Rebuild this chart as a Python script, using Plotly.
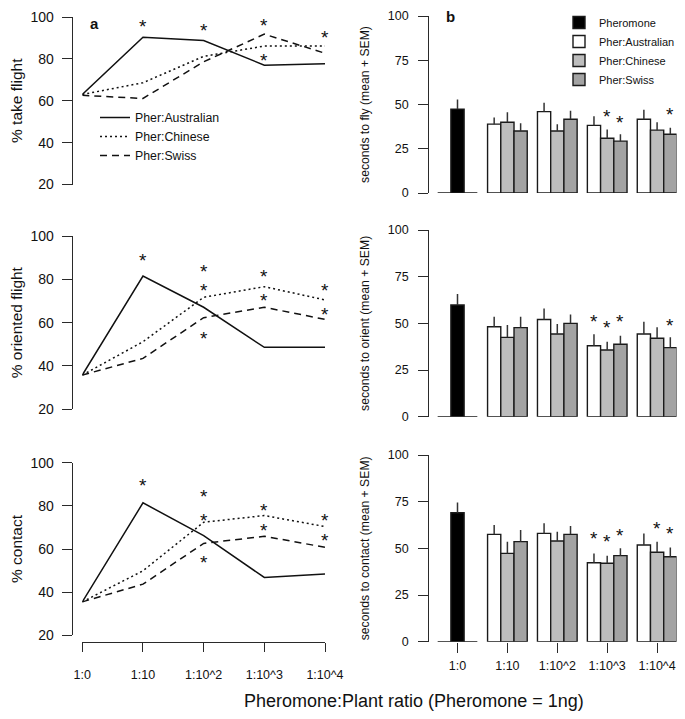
import plotly.graph_objects as go

# The page body keeps the browser's default 8px margin, so the figure is sized
# to fit inside the 685x719 window and all geometry below is given in window pixels.
WIN_W, WIN_H, PAGE_MARGIN = 685, 719, 8
W, H = WIN_W - 2 * PAGE_MARGIN, WIN_H - 2 * PAGE_MARGIN
FONT = "Liberation Sans, Arial, sans-serif"

ratios = ["1:0", "1:10", "1:10^2", "1:10^3", "1:10^4"]

# ---- panel a: % responding ----
take_aus = [63.0, 90.3, 88.8, 77.0, 77.7]
take_chi = [63.0, 68.6, 81.2, 86.1, 86.1]
take_swi = [62.6, 61.1, 78.6, 91.8, 82.7]

orient_aus = [35.8, 81.5, 67.1, 48.6, 48.6]
orient_chi = [35.8, 51.2, 71.7, 76.6, 70.5]
orient_swi = [35.8, 43.5, 62.3, 67.1, 61.5]

contact_aus = [35.5, 81.4, 66.2, 46.8, 48.4]
contact_chi = [35.5, 49.9, 72.4, 75.5, 70.4]
contact_swi = [35.5, 43.7, 62.6, 65.9, 60.8]

# significance stars: (ratio index, value)
take_stars = [(1, 96.4), (2, 94.4), (3, 97.1), (3, 80.0), (4, 91.4)]
orient_stars = [(1, 89.7), (2, 84.6), (2, 75.8), (2, 53.8), (3, 82.3), (3, 71.2), (4, 75.8), (4, 64.6)]
contact_stars = [(1, 90.5), (2, 85.1), (2, 74.3), (2, 54.6), (3, 78.6), (3, 69.3), (4, 74.3), (4, 65.0)]

# ---- panel b: seconds (mean + SEM) ----
fly_pher, fly_pher_sem = 47.4, 5.4
fly_aus = [38.9, 46.0, 38.2, 41.7]
fly_aus_sem = [3.7, 5.0, 5.1, 5.4]
fly_chi = [40.0, 35.0, 30.9, 35.5]
fly_chi_sem = [5.6, 3.9, 5.0, 4.5]
fly_swi = [35.0, 41.7, 29.3, 33.2]
fly_swi_sem = [4.4, 4.8, 3.9, 3.6]

orient_pher, orient_pher_sem = 59.8, 5.9
orient_b_aus = [48.2, 52.1, 38.0, 44.3]
orient_b_aus_sem = [5.4, 5.9, 6.1, 6.6]
orient_b_chi = [42.5, 44.3, 35.7, 42.0]
orient_b_chi_sem = [6.6, 5.3, 4.5, 5.9]
orient_b_swi = [47.7, 50.0, 38.8, 37.0]
orient_b_swi_sem = [5.9, 4.8, 4.6, 5.5]

contact_pher, contact_pher_sem = 69.1, 5.5
contact_b_aus = [57.5, 58.0, 42.3, 51.8]
contact_b_aus_sem = [5.0, 5.4, 5.0, 6.2]
contact_b_chi = [47.3, 53.9, 42.0, 47.9]
contact_b_chi_sem = [6.3, 5.0, 4.1, 5.7]
contact_b_swi = [53.6, 57.5, 46.1, 45.5]
contact_b_swi_sem = [6.2, 4.5, 3.9, 5.0]

# stars on bars: (ratio index, series, value)
fly_bar_stars = [(3, "chi", 44.2), (3, "swi", 41.2), (4, "swi", 45.3)]
orient_bar_stars = [(3, "aus", 52.3), (3, "chi", 48.6), (3, "swi", 52.1), (4, "swi", 50.0)]
contact_bar_stars = [(3, "aus", 56.3), (3, "chi", 54.5), (3, "swi", 58.0), (4, "chi", 61.6), (4, "swi", 58.9)]

series_names = ["Pher:Australian", "Pher:Chinese", "Pher:Swiss"]
bar_colors = {"pher": "#000000", "aus": "#ffffff", "chi": "#bdbdbd", "swi": "#a3a3a3"}


# ---------------- layout geometry (window pixels -> paper fractions) ----------------
def px(xs):
    return (xs - PAGE_MARGIN) / W


def py(ys):
    return 1 - (ys - PAGE_MARGIN) / H


left_x_dom = [px(82.3), px(325.0)]
left_y_doms = [(17.0, 184.5), (236.0, 409.3), (462.7, 635.3)]   # (y of 100, y of 20)
G0, GSTEP = 457.5, 49.9
XR = [-0.45, 4.39]
right_x_dom = [px(G0 + XR[0] * GSTEP), px(G0 + XR[1] * GSTEP)]
right_y_doms = [(16.0, 193.0), (230.0, 416.7), (455.0, 641.7)]  # (y of 100, y of 0)

AX = "#2a2a2a"
BW = 0.265  # bar width in category units
offs = {"aus": -BW, "chi": 0.0, "swi": BW, "pher": 0.0}
STAR_FONT = dict(size=19, color="#111111", family=FONT)

fig = go.Figure()

left_data = [
    (take_aus, take_chi, take_swi, take_stars, "% take flight"),
    (orient_aus, orient_chi, orient_swi, orient_stars, "% oriented flight"),
    (contact_aus, contact_chi, contact_swi, contact_stars, "% contact"),
]
dashes = ["solid", "2px,3px", "7px,5px"]
idx = list(range(len(ratios)))
annotations = []

for p, (a, c, s, stars, title) in enumerate(left_data):
    xa = "x%d" % (p + 1)
    ya = "y%d" % (p + 1)
    for k, vals in enumerate([a, c, s]):
        fig.add_trace(go.Scatter(
            x=idx, y=vals, mode="lines", name=series_names[k],
            line=dict(color="#111111", width=1.5, dash=dashes[k]),
            xaxis=xa, yaxis=ya, showlegend=(p == 0), legend="legend",
        ))
    for (i, v) in stars:
        annotations.append(dict(x=i, y=v, xref=xa, yref=ya, text="*", showarrow=False,
                                xanchor="center", yanchor="middle", font=STAR_FONT, yshift=-2))

right_data = [
    (fly_pher, fly_pher_sem, fly_aus, fly_aus_sem, fly_chi, fly_chi_sem, fly_swi, fly_swi_sem,
     fly_bar_stars, "seconds to fly (mean + SEM)"),
    (orient_pher, orient_pher_sem, orient_b_aus, orient_b_aus_sem, orient_b_chi, orient_b_chi_sem,
     orient_b_swi, orient_b_swi_sem, orient_bar_stars, "seconds to orient (mean + SEM)"),
    (contact_pher, contact_pher_sem, contact_b_aus, contact_b_aus_sem, contact_b_chi, contact_b_chi_sem,
     contact_b_swi, contact_b_swi_sem, contact_bar_stars, "seconds to contact (mean + SEM)"),
]


def err(arr):
    return dict(type="data", array=arr, arrayminus=[0] * len(arr), symmetric=False,
                width=0, thickness=1.5, color="#333333")


grp = idx[1:]
for p, (ph, phs, au, aus_, ch, chs, sw, sws, bstars, title) in enumerate(right_data):
    xa = "x%d" % (p + 4)
    ya = "y%d" % (p + 4)
    first = (p == 0)
    line = dict(color="#1a1a1a", width=1.4)
    # empty side bars at 1:0 (zero height, drawn as the baseline)
    fig.add_trace(go.Bar(x=[idx[0] + offs["aus"], idx[0] + offs["swi"]], y=[0, 0], width=BW,
                         marker=dict(color="#ffffff", line=line), showlegend=False,
                         xaxis=xa, yaxis=ya, cliponaxis=False, hoverinfo="skip"))
    fig.add_trace(go.Bar(x=[idx[0] + offs["pher"]], y=[ph], width=BW, name="Pheromone",
                         marker=dict(color=bar_colors["pher"], line=line), error_y=err([phs]),
                         xaxis=xa, yaxis=ya, showlegend=first, legend="legend2", cliponaxis=False))
    for key, vals, sem, nm in [("aus", au, aus_, series_names[0]),
                               ("chi", ch, chs, series_names[1]),
                               ("swi", sw, sws, series_names[2])]:
        fig.add_trace(go.Bar(x=[g + offs[key] for g in grp], y=vals, width=BW, name=nm,
                             marker=dict(color=bar_colors[key], line=line), error_y=err(sem),
                             xaxis=xa, yaxis=ya, showlegend=first, legend="legend2",
                             cliponaxis=False))
    for (i, key, v) in bstars:
        annotations.append(dict(x=i + offs[key], y=v, xref=xa, yref=ya, text="*", showarrow=False,
                                xanchor="center", yanchor="middle", font=STAR_FONT, yshift=-2))

layout = dict(
    template="none",
    width=W, height=H, autosize=False,
    margin=dict(l=0, r=0, t=0, b=0, pad=0, autoexpand=False),
    paper_bgcolor="white", plot_bgcolor="white",
    font=dict(family=FONT, color="#111111", size=12),
    barmode="overlay",
    legend=dict(x=px(95), y=py(103), xanchor="left", yanchor="top", bgcolor="rgba(0,0,0,0)",
                font=dict(size=12.3, family=FONT), tracegroupgap=0, borderwidth=0),
    legend2=dict(x=px(559), y=1.0, xanchor="left", yanchor="top", bgcolor="rgba(0,0,0,0)",
                 font=dict(size=11, family=FONT), tracegroupgap=0, borderwidth=0),
)

left_titles = [d[4] for d in left_data]
for p in range(3):
    top, bot = left_y_doms[p]
    layout["xaxis%d" % (p + 1)] = dict(
        domain=left_x_dom, range=[0, 4], showgrid=False, zeroline=False, automargin=False,
        visible=(p == 2), anchor="free" if p == 2 else "y%d" % (p + 1),
        position=py(642.3) if p == 2 else 0,
        tickmode="array", tickvals=idx, ticktext=ratios, ticks="outside", ticklen=9,
        tickwidth=1.3, tickcolor=AX, showline=True, linecolor=AX, linewidth=1.3,
        tickfont=dict(size=12.5, family=FONT), ticklabelstandoff=12, ticklabeloverflow="allow",
    )
    layout["yaxis%d" % (p + 1)] = dict(
        domain=[py(bot), py(top)], range=[20, 100], anchor="free", position=px(71.7),
        tickmode="array", tickvals=[20, 40, 60, 80, 100], ticks="outside", ticklen=10,
        tickwidth=1.3, tickcolor=AX, showline=True, linecolor=AX, linewidth=1.3, automargin=False,
        showgrid=False, zeroline=False, tickfont=dict(size=14, family=FONT), ticklabelstandoff=5,
        ticklabeloverflow="allow",
        title=dict(text=left_titles[p], font=dict(size=15.5, family=FONT), standoff=9),
    )

right_titles = [d[9] for d in right_data]
for p in range(3):
    top, bot = right_y_doms[p]
    layout["xaxis%d" % (p + 4)] = dict(
        domain=right_x_dom, range=XR, anchor="y%d" % (p + 4), automargin=False,
        showgrid=False, zeroline=False, showline=False,
        tickmode="array", tickvals=idx, ticktext=ratios,
        ticks="outside" if p == 2 else "", ticklen=10, tickwidth=1.3, tickcolor=AX,
        showticklabels=(p == 2), tickfont=dict(size=12.5, family=FONT), ticklabelstandoff=2,
        ticklabeloverflow="allow",
    )
    layout["yaxis%d" % (p + 4)] = dict(
        domain=[py(bot), py(top)], range=[0, 100], anchor="free", position=px(428.3),
        tickmode="array", tickvals=[0, 25, 50, 75, 100], ticks="outside", ticklen=10,
        tickwidth=1.3, tickcolor=AX, showline=True, linecolor=AX, linewidth=1.3, automargin=False,
        showgrid=False, zeroline=False, tickfont=dict(size=12.5, family=FONT), ticklabelstandoff=7,
        ticklabeloverflow="allow",
        title=dict(text=right_titles[p], font=dict(size=12.2, family=FONT), standoff=14),
    )

annotations.append(dict(x=px(95), y=py(24), xref="paper", yref="paper", text="<b>a</b>",
                        xanchor="center", yanchor="middle", showarrow=False,
                        font=dict(size=15, family=FONT, color="#111111")))
annotations.append(dict(x=px(451), y=py(17), xref="paper", yref="paper", text="<b>b</b>",
                        xanchor="center", yanchor="middle", showarrow=False,
                        font=dict(size=15, family=FONT, color="#111111")))
annotations.append(dict(x=px(414), y=py(701), xref="paper", yref="paper",
                        text="Pheromone:Plant ratio (Pheromone = 1ng)", showarrow=False,
                        xanchor="center", yanchor="middle",
                        font=dict(size=18, family=FONT, color="#111111")))
layout["annotations"] = annotations

fig.update_layout(**layout)
fig.write_html("out.html")
